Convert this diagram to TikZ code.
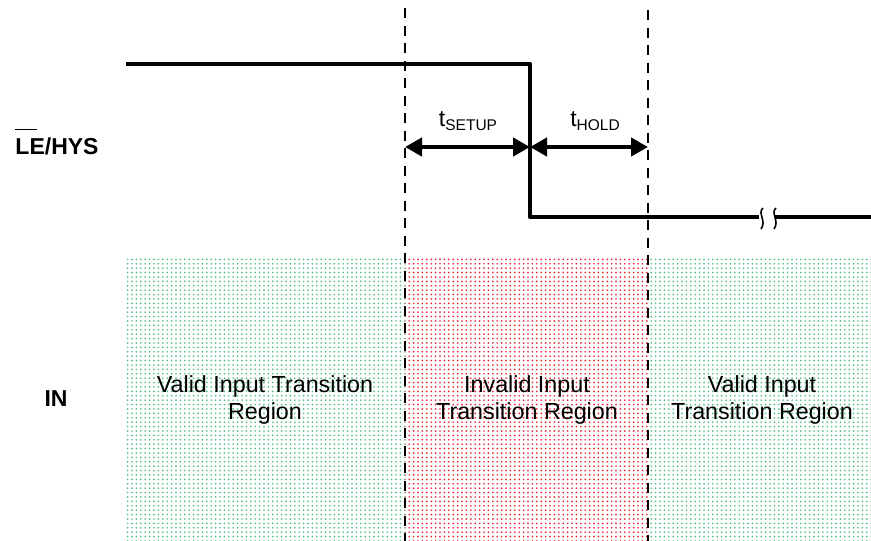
\documentclass[tikz,border=0pt]{standalone}
\usepackage{fontspec}
\setmainfont{Liberation Sans}
\usetikzlibrary{arrows.meta,patterns.meta}
\definecolor{dotgreen}{RGB}{80,195,130}
\definecolor{dotred}{RGB}{235,40,50}
\tikzset{
  sig/.style={line width=4.5pt,line join=round},
  guide/.style={line width=1.6pt,dash pattern=on 10pt off 7.5pt},
  dim/.style={line width=4.5pt,{Triangle[length=17pt,width=18pt]}-{Triangle[length=17pt,width=18pt]}},
  region/.style={font=\fontsize{23.3}{27}\selectfont,align=center},
  lbl/.style={font=\fontsize{23}{27}\selectfont\bfseries,anchor=base},
  brk/.style={line width=1.6pt},
  gpat/.style={pattern={Dots[distance=4.4pt,radius=0.95pt]},pattern color=dotgreen},
  rpat/.style={pattern={Dots[distance=4.4pt,radius=0.95pt]},pattern color=dotred}
}
\begin{document}
\begin{tikzpicture}[x=1pt,y=-1pt]
\useasboundingbox (0,0) rectangle (871,541);
% regions
\path[gpat] (126,258) rectangle (405,541);
\path[rpat] (405,258) rectangle (648,541);
\path[gpat] (648,258) rectangle (871,541);
% guides
\coordinate (g1t) at (405,8);
\coordinate (g1b) at (405,541);
\coordinate (g2t) at (648,10);
\coordinate (g2b) at (648,541);
\draw[guide] (g1t) -- (g1b);
\draw[guide] (g2t) -- (g2b);
% signal
\coordinate (s0) at (126,64);
\coordinate (s1) at (530,64);
\coordinate (s2) at (530,217);
\coordinate (s3) at (759,217);
\coordinate (s4) at (775,217);
\coordinate (s5) at (871,217);
\draw[sig] (s0) -- (s1) -- (s2) -- (s3);
\draw[sig] (s4) -- (s5);
% break marks
\draw[brk] (763,208) .. controls (757,213) and (767,221) .. (761,229);
\draw[brk] (776,208) .. controls (770,213) and (780,221) .. (774,229);
% dimension arrows
\coordinate (aL) at (405,147);
\coordinate (aM) at (530,147);
\coordinate (aR) at (648,147);
\draw[dim] (aL) -- (aM);
\draw[dim] (aM) -- (aR);
\node[font=\fontsize{23}{27}\selectfont] (tsetup) at (468,121) {t\raisebox{-0.35ex}{\fontsize{15.5}{17}\selectfont SETUP}};
\node[font=\fontsize{23}{27}\selectfont] (thold) at (595,121) {t\raisebox{-0.35ex}{\fontsize{15.5}{17}\selectfont HOLD}};
% labels
\node[lbl] (le) at (57,154) {\rlap{\rule[24pt]{0.95em}{1.4pt}}LE/HYS};
\node[lbl] (in) at (56,406) {IN};
% region texts
\node[region] (v1) at (265,400) {Valid Input Transition\\Region};
\node[region] (inv) at (527,400) {Invalid Input\\Transition Region};
\node[region] (v2) at (762,400) {Valid Input\\Transition Region};
\end{tikzpicture}
\end{document}
